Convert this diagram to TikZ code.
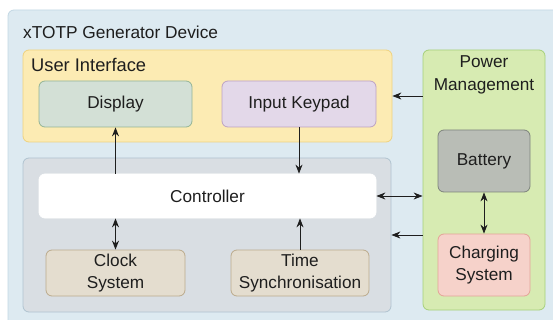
\documentclass[tikz,border=0pt]{standalone}
\usepackage{fontspec}
\setmainfont{Liberation Sans}
\usetikzlibrary{arrows.meta}
\definecolor{devfill}{HTML}{DDEAF1}
\definecolor{devline}{HTML}{C3D8E4}
\definecolor{uifill}{HTML}{FCEBB3}
\definecolor{uiline}{HTML}{EFD27E}
\definecolor{dispfill}{HTML}{D3E0D6}
\definecolor{displine}{HTML}{93B495}
\definecolor{keyfill}{HTML}{E3D8E9}
\definecolor{keyline}{HTML}{BDA2C4}
\definecolor{pmfill}{HTML}{D7EBB2}
\definecolor{pmline}{HTML}{A6D07A}
\definecolor{batfill}{HTML}{B9BDB6}
\definecolor{batline}{HTML}{7D837C}
\definecolor{chgfill}{HTML}{F6D2CA}
\definecolor{chgline}{HTML}{E4A397}
\definecolor{grpfill}{HTML}{D9DEE3}
\definecolor{grpline}{HTML}{B0C3D0}
\definecolor{clkfill}{HTML}{E4DDCF}
\definecolor{clkline}{HTML}{BBAA8C}
\definecolor{ink}{HTML}{1E1E1E}
\tikzset{
  box/.style={rectangle, rounded corners=6pt, line width=0.8pt, align=center,
    text=ink, font=\fontsize{17.2}{21.5}\selectfont, inner sep=0pt},
  link/.style={draw=ink, line width=0.9pt, -{Stealth[length=9pt,width=7pt]}},
  dlink/.style={draw=ink, line width=0.9pt, {Stealth[length=9pt,width=7pt]}-{Stealth[length=9pt,width=7pt]}},
  label/.style={text=ink, inner sep=0pt, anchor=west}
}
\begin{document}
\begin{tikzpicture}[x=1pt,y=-1pt]
\useasboundingbox (0,0) rectangle (553,320);
\clip (0,0) rectangle (553,320);
\fill[white] (0,0) rectangle (553,320);
% device enclosure
\node[box, fill=devfill, draw=devline, minimum width=560pt, minimum height=330pt] (dev) at (288,175) {};
\node[label, font=\fontsize{17.3}{20}\selectfont] (devtitle) at (23,32) {xTOTP Generator Device};
% user interface group
\node[box, fill=uifill, draw=uiline, minimum width=369pt, minimum height=92pt] (ui) at (207.5,96) {};
\node[label, font=\fontsize{18.3}{20}\selectfont] (uititle) at (31,65) {User Interface};
\node[box, fill=dispfill, draw=displine, minimum width=153pt, minimum height=46pt] (disp) at (115.5,104) {Display};
\node[box, fill=keyfill, draw=keyline, minimum width=154pt, minimum height=46pt] (key) at (299,104) {Input Keypad};
% power management group
\node[box, fill=pmfill, draw=pmline, minimum width=122pt, minimum height=260pt] (pm) at (484,180) {};
\node[text=ink, align=center, font=\fontsize{17.2}{23}\selectfont, inner sep=0pt] (pmtitle) at (484,75) {Power\\Management};
\node[box, fill=batfill, draw=batline, minimum width=92pt, minimum height=62pt] (bat) at (484,161) {Battery};
\node[box, fill=chgfill, draw=chgline, minimum width=92pt, minimum height=62pt] (chg) at (484,265) {Charging\\System};
% processing group
\node[box, fill=grpfill, draw=grpline, minimum width=368pt, minimum height=154pt] (grp) at (207,235) {};
\node[box, fill=white, draw=white, minimum width=337pt, minimum height=44pt] (ctrl) at (207.5,196) {Controller};
\node[box, fill=clkfill, draw=clkline, minimum width=139pt, minimum height=46pt] (clk) at (115.5,273) {Clock\\System};
\node[box, fill=clkfill, draw=clkline, minimum width=138pt, minimum height=46pt] (sync) at (300,273) {Time\\Synchronisation};
% connections
\draw[link] (ctrl.north -| disp.south) -- (disp.south);
\draw[link] (key.south) -- (ctrl.north -| key.south);
\draw[dlink] (ctrl.south -| clk.north) -- (clk.north);
\draw[link] (sync.north) -- (ctrl.south -| sync.north);
\draw[dlink] (ctrl.east) -- (pm.west |- ctrl.east);
\draw[link] (pm.west |- ui.east) -- (ui.east);
\draw[link] (pm.west |- grp.east) -- (grp.east);
\draw[dlink] (bat.south) -- (chg.north);
\end{tikzpicture}
\end{document}
